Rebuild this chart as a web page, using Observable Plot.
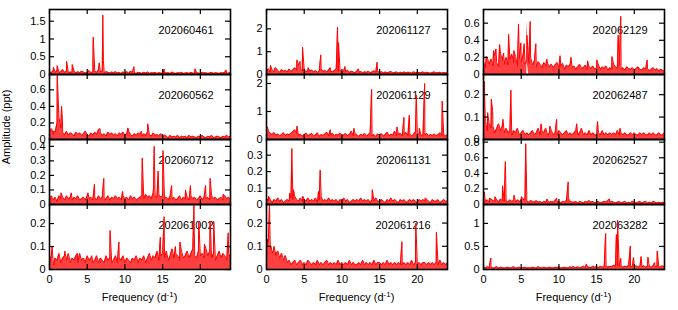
<!DOCTYPE html>
<html>
<head>
<meta charset="utf-8">
<script src="https://cdn.jsdelivr.net/npm/d3@7"></script>
<script src="https://cdn.jsdelivr.net/npm/@observablehq/plot@0.6"></script>
<style>
  body { margin: 0; background: #fff; }
  #chart { position: relative; width: 678px; height: 310px; overflow: hidden;
           font-family: "Liberation Sans", Arial, sans-serif; font-size: 11px; color: #000; }
  #chart svg { position: absolute; background: transparent; }
  .xtitle { position: absolute; top: 291px; width: 181px; text-align: center; line-height: 13px; }
  .xtitle sup { font-size: 8px; vertical-align: 4px; line-height: 0; }
  .ytitle { position: absolute; left: 6px; top: 127px; transform: translate(-50%, -50%) rotate(-90deg); white-space: nowrap; }
</style>
</head>
<body>
<div id="chart"></div>
<script>
// Frequency grid step for the hand-read noise arrays (d^-1)
const STEP = 0.25;
const xTicks = [0, 5, 10, 15, 20];

// Star IDs, one per panel (column-major: 4 rows x 3 columns)
const ids = ["202060461","202060562","202060712","202061002",
             "202061127","202061129","202061131","202061216",
             "202062129","202062487","202062527","202063282"];

// y-axis maxima (ppt) and tick labels
const yMax = [1.83, 0.785, 0.447, 0.283, 2.85, 2.32, 0.395, 0.28, 0.76, 0.29, 0.834, 1.41];
const yTicks = [
  [0, 0.5, 1, 1.5], [0, 0.2, 0.4, 0.6], [0, 0.1, 0.2, 0.3, 0.4], [0, 0.1, 0.2],
  [0, 1, 2], [0, 1, 2], [0, 0.1, 0.2, 0.3], [0, 0.1, 0.2],
  [0, 0.2, 0.4, 0.6], [0, 0.1, 0.2], [0, 0.2, 0.4, 0.6, 0.8], [0, 0.5, 1]
];

// Noise floor values, 0.01 ppt units, every 0.25 d^-1 from 0 to 24
const noise_202060461 = [9,4,12,6,10,5,8,14,6,9,5,7, 6,10,4,8,5,9,7,4,6,11,5,8, 9,6,13,7,10,5,8,6,4,7,5,8, 4,6,3,7,5,8,4,9,6,5,3,6, 5,3,6,4,7,3,5,4,6,3,5,4, 3,6,4,5,3,7,4,3,5,4,6,3, 4,5,3,6,4,3,5,4,3,6,4,5, 3,4,6,3,5,4,3,5,4,6,3,4, 5];
const noise_202060562 = [10,13,6,9,20,27,14,8,6,10,5,8, 7,4,9,6,8,5,7,10,6,4,8,5, 9,6,12,8,5,7,4,9,6,8,5,7, 4,8,6,9,5,7,10,6,4,7,5,8, 6,4,7,5,9,6,4,8,5,6,4,7, 3,5,4,2,5,3,4,3,5,2,4,3, 4,2,5,3,4,3,2,4,3,5,3,2, 4,3,5,2,3,4,3,2,4,3,5,3, 4];
const noise_202060712 = [4,6,3,5,2,6,4,5,3,6,4,5, 3,5,4,6,3,4,5,3,6,4,5,3, 5,3,6,4,5,3,4,6,3,5,4,6, 4,5,3,6,4,5,3,6,4,5,3,4, 5,6,4,7,5,6,4,8,6,5,7,5, 6,4,5,3,6,4,5,3,4,6,3,5, 4,5,3,6,4,5,3,4,6,3,5,4, 5,3,6,4,5,3,4,5,3,6,4,5, 3];
const noise_202061002 = [3,6,2,5,4,7,3,5,6,4,7,3, 5,4,6,3,7,4,5,3,6,4,5,3, 4,6,3,5,4,3,6,4,5,3,4,6, 3,5,4,6,3,5,4,3,5,4,6,3, 5,4,6,3,5,7,4,6,5,8,4,6, 7,5,8,4,6,9,5,7,6,4,8,5, 6,8,5,7,9,6,5,8,6,7,5,9, 6,8,5,7,4,6,8,5,7,6,4,7, 5];
const noise_202061127 = [15,25,10,20,12,28,18,9,22,14,19,11, 24,13,20,30,18,40,25,16,22,12,19,15, 20,11,17,9,15,24,13,18,10,21,14,12, 17,25,13,20,10,16,12,19,9,14,11,8, 15,10,13,7,12,9,14,8,11,16,10,13, 9,12,7,11,8,10,13,7,9,11,6,10, 8,11,7,10,9,6,12,8,10,7,9,11, 7,10,8,6,9,11,7,8,10,6,9,7, 8];
const noise_202061129 = [40,30,22,18,25,15,20,12,18,24,14,20, 16,22,28,35,20,14,19,12,17,23,13,18, 21,12,16,24,11,18,14,20,26,13,17,22, 12,19,15,23,11,17,21,13,18,30,14,20, 16,11,19,14,22,12,17,25,13,18,11,20, 14,21,12,18,26,13,19,15,30,12,17,22, 13,19,25,14,20,12,18,28,15,21,13,19, 16,22,12,18,14,20,13,17,24,15,19,12, 18];
const noise_202061131 = [4,2,3,1,3,2,4,2,3,1,2,3, 2,4,3,5,3,2,4,2,3,2,4,2, 3,2,4,1,3,5,2,3,2,4,2,3, 2,3,1,3,2,4,2,3,1,2,3,2, 3,2,4,2,3,2,3,1,3,2,4,2, 2,3,2,1,3,2,4,2,3,2,1,3, 2,3,1,2,3,2,3,2,1,3,2,3, 2,3,2,1,3,2,2,3,1,2,3,2, 2];
const noise_202061216 = [8,12,9,7,10,6,8,5,7,4,6,3, 4,2,3,4,2,3,4,2,3,2,4,3, 2,3,2,4,2,3,2,3,4,2,3,2, 3,2,4,2,3,2,3,2,4,2,3,2, 2,3,2,4,2,3,2,3,2,4,2,3, 3,2,3,2,4,2,3,2,3,2,3,2, 2,3,2,3,2,4,2,3,2,3,2,3, 3,2,3,2,3,2,3,2,4,2,3,2, 3];
const noise_202062129 = [15,8,20,12,18,10,22,14,9,25,16,12, 20,11,18,24,14,21,10,19,15,23,12,17, 14,20,11,16,9,15,12,8,14,10,13,9, 12,8,11,14,7,10,13,6,11,9,12,8, 10,6,9,12,7,8,11,6,9,7,10,6, 8,11,6,9,7,10,5,8,6,12,9,7, 10,6,8,5,9,7,6,8,5,7,9,6, 5,8,6,7,4,6,8,5,7,4,6,5, 4];
const noise_202062487 = [6,8,4,7,5,6,3,5,7,4,6,3, 5,3,4,2,4,3,5,2,3,4,2,3, 2,3,4,2,3,5,2,4,3,5,2,3, 4,2,3,2,4,3,2,3,4,2,3,2, 3,4,2,3,5,2,3,2,4,2,3,2, 2,3,2,4,2,3,2,3,2,3,2,4, 2,3,2,3,2,2,3,2,3,2,2,3, 2,3,2,2,3,2,3,2,2,3,2,2, 3];
const noise_202062527 = [8,4,6,3,7,5,4,6,3,7,5,4, 5,3,6,4,5,3,6,4,5,7,6,4, 3,5,4,3,5,3,4,2,4,3,5,3, 4,3,5,3,4,2,4,3,5,8,4,3, 3,4,2,4,3,2,4,3,5,3,4,2, 3,4,2,3,4,3,5,3,4,3,2,3, 4,2,3,4,2,3,2,4,3,2,3,4, 2,3,4,2,3,2,4,3,2,3,2,3, 2];
const noise_202063282 = [5,3,6,4,5,3,4,6,3,5,4,3, 4,5,3,4,6,3,4,5,3,4,5,3, 4,3,5,4,3,6,4,3,5,4,3,5, 4,3,5,4,6,3,4,5,4,3,6,4, 5,4,6,3,5,7,4,6,5,4,7,5, 6,4,7,5,6,8,5,7,6,9,7,8, 6,8,5,7,6,9,5,7,6,8,5,7, 6,8,5,7,6,5,8,6,7,5,6,8, 5];

// Peaks [frequency d^-1, amplitude ppt]
const peaks_202060461 = [[0.52,0.2],[1.03,0.25],[2.27,0.37],[3.02,0.28],[5.8,1.05],[6.6,0.33],[7.07,1.67],[7.15,0.4],[11.2,0.22],[15.2,0.15],[19.3,0.16],[23.4,0.13]];
const peaks_202060562 = [[0.3,0.13],[0.55,0.1],[1.03,0.78],[1.6,0.4],[1.7,0.27],[6.7,0.13],[10.4,0.14],[12.2,0.1],[13.03,0.19]];
const peaks_202060712 = [[1.53,0.08],[2.9,0.08],[5.1,0.08],[5.97,0.14],[7.2,0.18],[9.7,0.09],[12.3,0.32],[13.8,0.12],[13.88,0.4],[14.4,0.23],[15.05,0.37],[16.2,0.13],[18.03,0.1],[18.7,0.13],[20.7,0.13],[21.3,0.18],[23.03,0.07]];
const peaks_202061002 = [[0.35,0.1],[2.03,0.08],[3.7,0.07],[5.6,0.06],[8.03,0.17],[9.2,0.12],[14.7,0.14],[15.2,0.23],[16.7,0.1],[17.3,0.12],[19.15,0.28],[19.8,0.21],[20.55,0.11],[21.3,0.21],[21.78,0.21],[23.7,0.16]];
const peaks_202061127 = [[0.53,0.4],[1.15,0.3],[4.03,0.64],[4.45,0.57],[4.78,1.2],[5.53,0.3],[7.2,0.86],[8.45,0.3],[9.42,2.07],[9.55,1.4],[10.4,0.35],[12.2,0.25],[14.65,0.54]];
const peaks_202061129 = [[0.13,0.45],[4.03,0.48],[8.45,0.35],[11.6,0.4],[13.94,1.79],[17.3,0.45],[18.23,0.79],[18.94,0.87],[19.87,1.58],[20.27,0.4],[20.97,2.0],[23.3,1.37]];
const peaks_202061131 = [[0.27,0.05],[3.1,0.07],[3.36,0.34],[3.58,0.09],[4.82,0.05],[6.9,0.08],[7.12,0.21],[14.03,0.09],[21.06,0.04]];
const peaks_202061216 = [[0.15,0.13],[0.4,0.28],[0.6,0.1],[0.9,0.08],[1.3,0.07],[17.96,0.12],[19.8,0.2],[22.53,0.16]];
const peaks_202062129 = [[0.37,0.21],[1.34,0.28],[1.65,0.3],[2.14,0.35],[2.67,0.25],[3.33,0.47],[4.03,0.28],[4.65,0.59],[4.96,0.37],[5.4,0.36],[5.75,0.46],[6.19,0.62],[6.94,0.36],[8.4,0.18],[10.15,0.22],[11.6,0.2],[13.8,0.16],[15.03,0.17],[17.03,0.21],[17.86,0.46],[18.2,0.68],[21.7,0.17]];
const peaks_202062487 = [[0.1,0.26],[0.55,0.12],[1.04,0.18],[1.21,0.13],[2.58,0.09],[3.63,0.22],[7.64,0.07],[8.8,0.06],[9.7,0.09],[12.36,0.07],[15.13,0.08],[18.1,0.05]];
const peaks_202062527 = [[0.1,0.16],[0.8,0.08],[1.53,0.1],[2.53,0.24],[2.9,0.55],[4.05,0.12],[5.03,0.1],[5.6,0.78],[5.68,0.42],[8.46,0.07],[9.7,0.08],[11.23,0.29],[16.7,0.07]];
const peaks_202063282 = [[0.97,0.25],[11.9,0.07],[13.65,0.12],[16.2,0.78],[17.62,0.76],[17.78,1.07],[18.2,0.24],[19.47,0.51],[19.9,0.26],[20.9,0.28],[21.8,0.27],[22.7,0.15],[23.04,0.4]];

const noises = [noise_202060461, noise_202060562, noise_202060712, noise_202061002,
                noise_202061127, noise_202061129, noise_202061131, noise_202061216,
                noise_202062129, noise_202062487, noise_202062527, noise_202063282];
const peakSets = [peaks_202060461, peaks_202060562, peaks_202060712, peaks_202061002,
                  peaks_202061127, peaks_202061129, peaks_202061131, peaks_202061216,
                  peaks_202062129, peaks_202062487, peaks_202062527, peaks_202063282];

function series(noise, peaks) {
  const pts = noise.map((v, i) => ({f: i * STEP, a: v / 100}));
  for (const [f, a] of peaks) pts.push({f, a});
  return pts.sort((p, q) => p.f - q.f);
}

// Layout
const colLeft = [49, 266, 483];
const rowTop = [9, 74, 139, 204];
const W = 181, H = 65;
const chart = document.getElementById("chart");

for (let k = 0; k < 12; k++) {
  const col = Math.floor(k / 4), row = k % 4;
  const bottom = row === 3;
  const mL = 40, mR = 10, mT = 10, mB = bottom ? 30 : 10;
  const data = series(noises[k], peakSets[k]);
  const yt = yTicks[k];
  const svg = Plot.plot({
    width: W + mL + mR, height: H + mT + mB,
    marginLeft: mL, marginRight: mR, marginTop: mT, marginBottom: mB,
    style: {fontFamily: "'Liberation Sans', Arial, sans-serif", fontSize: "11px", background: "transparent", overflow: "visible"},
    x: {domain: [0, 24], ...(bottom ? {} : {axis: null})},
    y: {domain: [0, yMax[k]]},
    marks: [
      Plot.text([ids[k]], {text: d => d, frameAnchor: "top-right", dx: -17, dy: 17, textAnchor: "end", fontSize: 11, fill: "black"}),
      Plot.areaY(data, {x: "f", y: "a", fill: "#ff0000", fillOpacity: 0.75, clip: true}),
      Plot.line(data, {x: "f", y: "a", stroke: "#ff0000", strokeWidth: 1, clip: true}),
      Plot.ruleY(yt, {y: d => d, insetRight: W - 5, stroke: "black", strokeWidth: 1.2}),
      Plot.ruleY(yt, {y: d => d, insetLeft: W - 5, stroke: "black", strokeWidth: 1.2}),
      Plot.ruleX(xTicks, {x: d => d, insetBottom: H - 5, stroke: "black", strokeWidth: 1.2}),
      Plot.ruleX(xTicks, {x: d => d, insetTop: H - 5, stroke: "black", strokeWidth: 1.2}),
      Plot.axisY(yt, {tickSize: 0, tickPadding: 4, label: null, tickFormat: d => String(d)}),
      bottom ? Plot.axisX(xTicks, {tickSize: 0, tickPadding: 6, label: null, tickFormat: d => String(d)}) : null,
      Plot.frame({stroke: "black", strokeWidth: 1.6})
    ]
  });
  svg.style.left = (colLeft[col] - mL) + "px";
  svg.style.top = (rowTop[row] - mT) + "px";
  chart.appendChild(svg);
}

for (let c = 0; c < 3; c++) {
  const t = document.createElement("div");
  t.className = "xtitle";
  t.style.left = colLeft[c] + "px";
  t.innerHTML = "Frequency (d<sup>-1</sup>)";
  chart.appendChild(t);
}
const yl = document.createElement("div");
yl.className = "ytitle";
yl.textContent = "Amplitude (ppt)";
chart.appendChild(yl);
</script>
</body>
</html>
